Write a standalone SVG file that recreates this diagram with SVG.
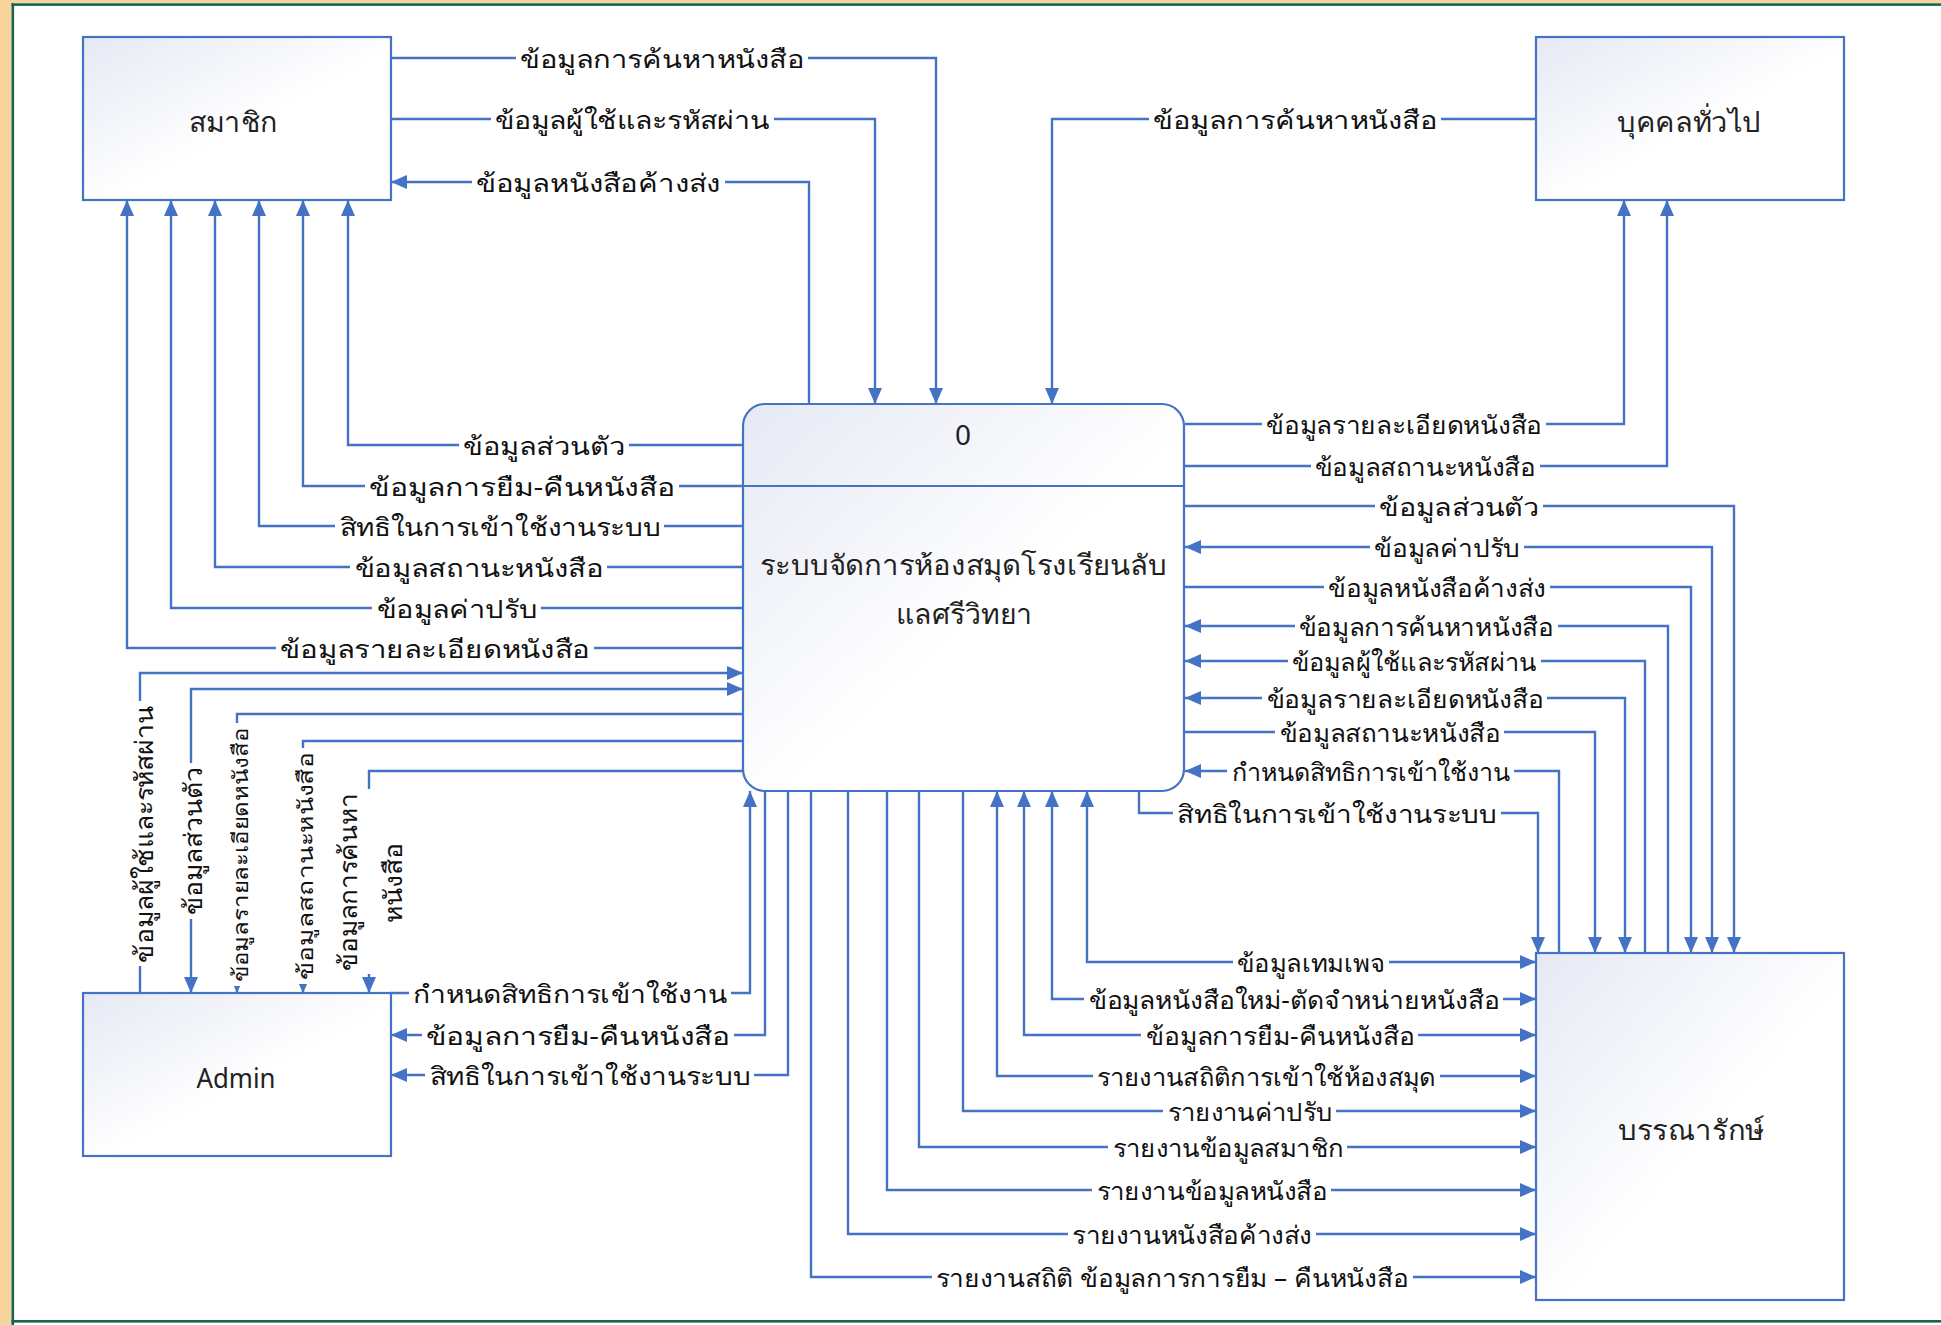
<svg xmlns="http://www.w3.org/2000/svg" width="1941" height="1325" viewBox="0 0 1941 1325">
<defs>
<linearGradient id="gb" x1="0" y1="0" x2="1" y2="1">
<stop offset="0" stop-color="#E6E9F4"/>
<stop offset="0.55" stop-color="#FFFFFF"/>
<stop offset="1" stop-color="#FFFFFF"/>
</linearGradient>
<marker id="ah" markerWidth="16" markerHeight="14" refX="16" refY="7" orient="auto-start-reverse" markerUnits="userSpaceOnUse"><path d="M0,0 L16,7 L0,14 z" fill="#4472C4"/></marker>
<marker id="as" markerWidth="11" markerHeight="10" refX="11" refY="5" orient="auto-start-reverse" markerUnits="userSpaceOnUse"><path d="M0,0 L11,5 L0,10 z" fill="#4472C4"/></marker>
<style>
.box{fill:url(#gb);stroke:#4472C4;stroke-width:2.2}
.ln{fill:none;stroke:#4472C4;stroke-width:2.4}
.e{marker-end:url(#ah)}
.s{marker-start:url(#ah)}
.es{marker-end:url(#as)}
.bg{fill:#FFFFFF}
.lb{font-family:"Noto Sans","DejaVu Sans",sans-serif;font-size:25px;fill:#111}
.sm{font-size:21px}
.nm{font-family:"Noto Sans","DejaVu Sans",sans-serif;font-size:28px;fill:#222}
</style>
</defs>
<rect x="0" y="0" width="1941" height="1325" fill="#FFFFFF"/>
<rect x="0" y="0" width="1941" height="3.5" fill="#F7D59C"/>
<rect x="0" y="0" width="11.5" height="1325" fill="#F7D59C"/>
<rect x="11.5" y="3.3" width="1929.5" height="2.6" fill="#17654A"/>
<rect x="11.5" y="3.3" width="2.6" height="1321.7" fill="#17654A"/>
<rect x="11.5" y="1320" width="1929.5" height="2.6" fill="#17654A"/>

<g id="connectors">
<path class="ln e" d="M391,58 H936 V404"/>
<path class="ln e" d="M391,119 H875 V404"/>
<path class="ln e" d="M809,404 V182 H391"/>
<path class="ln e" d="M743,445 H348 V200"/>
<path class="ln e" d="M743,486 H303 V200"/>
<path class="ln e" d="M743,526 H259 V200"/>
<path class="ln e" d="M743,567 H215 V200"/>
<path class="ln e" d="M743,608 H171 V200"/>
<path class="ln e" d="M743,648 H127 V200"/>
<path class="ln e" d="M140,993 V673 H743"/>
<path class="ln e s" d="M191,993 V689 H743"/>
<path class="ln es" d="M743,714 H237 V993"/>
<path class="ln es" d="M743,741 H303 V993"/>
<path class="ln e" d="M743,771 H369 V993"/>
<path class="ln e" d="M391,993 H750 V791"/>
<path class="ln e" d="M765,791 V1035 H391"/>
<path class="ln e" d="M788,791 V1075 H391"/>
<path class="ln e" d="M1535,119 H1052 V404"/>
<path class="ln e" d="M1185,424 H1624 V200"/>
<path class="ln e" d="M1185,466 H1667 V200"/>
<path class="ln e" d="M1185,506 H1734 V953"/>
<path class="ln e s" d="M1185,547 H1712 V953"/>
<path class="ln e" d="M1185,587 H1691 V953"/>
<path class="ln e" d="M1668,953 V626 H1185"/>
<path class="ln e" d="M1645,953 V661 H1185"/>
<path class="ln e s" d="M1185,698 H1625 V953"/>
<path class="ln e" d="M1185,732 H1595 V953"/>
<path class="ln e" d="M1559,953 V771 H1185"/>
<path class="ln e" d="M1139,791 V813 H1538 V953"/>
<path class="ln e s" d="M1087,791 V962 H1536"/>
<path class="ln e s" d="M1052,791 V999 H1536"/>
<path class="ln e s" d="M1024,791 V1035 H1536"/>
<path class="ln e s" d="M997,791 V1076 H1536"/>
<path class="ln e" d="M963,791 V1111 H1536"/>
<path class="ln e" d="M919,791 V1147 H1536"/>
<path class="ln e" d="M887,791 V1190 H1536"/>
<path class="ln e" d="M848,791 V1234 H1536"/>
<path class="ln e" d="M811,791 V1277 H1536"/>
</g>

<g id="labels">
<rect class="bg" x="516" y="53" width="292" height="10"/><text class="lb" x="662" y="68" text-anchor="middle" textLength="284" lengthAdjust="spacingAndGlyphs">ข้อมูลการค้นหาหนังสือ</text>
<rect class="bg" x="491" y="114" width="283" height="10"/><text class="lb" x="632" y="129" text-anchor="middle" textLength="275" lengthAdjust="spacingAndGlyphs">ข้อมูลผู้ใช้และรหัสผ่าน</text>
<rect class="bg" x="472" y="177" width="253" height="10"/><text class="lb" x="598" y="192" text-anchor="middle" textLength="245" lengthAdjust="spacingAndGlyphs">ข้อมูลหนังสือค้างส่ง</text>
<rect class="bg" x="1149" y="114" width="292" height="10"/><text class="lb" x="1295" y="129" text-anchor="middle" textLength="284" lengthAdjust="spacingAndGlyphs">ข้อมูลการค้นหาหนังสือ</text>

<rect class="bg" x="459" y="440" width="170" height="10"/><text class="lb" x="544" y="455" text-anchor="middle" textLength="162" lengthAdjust="spacingAndGlyphs">ข้อมูลส่วนตัว</text>
<rect class="bg" x="365" y="481" width="314" height="10"/><text class="lb" x="522" y="496" text-anchor="middle" textLength="306" lengthAdjust="spacingAndGlyphs">ข้อมูลการยืม-คืนหนังสือ</text>
<rect class="bg" x="335" y="521" width="329" height="10"/><text class="lb" x="500" y="536" text-anchor="middle" textLength="321" lengthAdjust="spacingAndGlyphs">สิทธิในการเข้าใช้งานระบบ</text>
<rect class="bg" x="350" y="562" width="257" height="10"/><text class="lb" x="479" y="577" text-anchor="middle" textLength="249" lengthAdjust="spacingAndGlyphs">ข้อมูลสถานะหนังสือ</text>
<rect class="bg" x="372" y="603" width="169" height="10"/><text class="lb" x="457" y="618" text-anchor="middle" textLength="161" lengthAdjust="spacingAndGlyphs">ข้อมูลค่าปรับ</text>
<rect class="bg" x="276" y="643" width="318" height="10"/><text class="lb" x="435" y="658" text-anchor="middle" textLength="310" lengthAdjust="spacingAndGlyphs">ข้อมูลรายละเอียดหนังสือ</text>

<rect class="bg" x="135" y="701" width="10" height="265"/><text class="lb" transform="translate(153,834) rotate(-90)" text-anchor="middle" textLength="257" lengthAdjust="spacingAndGlyphs">ข้อมูลผู้ใช้และรหัสผ่าน</text>
<rect class="bg" x="186" y="763" width="10" height="156"/><text class="lb" transform="translate(202,841) rotate(-90)" text-anchor="middle" textLength="148" lengthAdjust="spacingAndGlyphs">ข้อมูลส่วนตัว</text>
<rect class="bg" x="232" y="723" width="10" height="263"/><text class="lb sm" transform="translate(248,855) rotate(-90)" text-anchor="middle" textLength="255" lengthAdjust="spacingAndGlyphs">ข้อมูลรายละเอียดหนังสือ</text>
<rect class="bg" x="298" y="748" width="10" height="236"/><text class="lb sm" transform="translate(313,866) rotate(-90)" text-anchor="middle" textLength="228" lengthAdjust="spacingAndGlyphs">ข้อมูลสถานะหนังสือ</text>
<rect class="bg" x="364" y="789" width="10" height="185"/><text class="lb" transform="translate(357,882) rotate(-90)" text-anchor="middle" textLength="177" lengthAdjust="spacingAndGlyphs">ข้อมูลการค้นหา</text>
<text class="lb" transform="translate(402,883) rotate(-90)" text-anchor="middle" textLength="80" lengthAdjust="spacingAndGlyphs">หนังสือ</text>

<rect class="bg" x="409" y="988" width="322" height="10"/><text class="lb" x="570" y="1003" text-anchor="middle" textLength="314" lengthAdjust="spacingAndGlyphs">กำหนดสิทธิการเข้าใช้งาน</text>
<rect class="bg" x="422" y="1030" width="312" height="10"/><text class="lb" x="578" y="1045" text-anchor="middle" textLength="304" lengthAdjust="spacingAndGlyphs">ข้อมูลการยืม-คืนหนังสือ</text>
<rect class="bg" x="425" y="1070" width="329" height="10"/><text class="lb" x="590" y="1085" text-anchor="middle" textLength="321" lengthAdjust="spacingAndGlyphs">สิทธิในการเข้าใช้งานระบบ</text>

<rect class="bg" x="1262" y="419" width="284" height="10"/><text class="lb" x="1404" y="434" text-anchor="middle" textLength="276" lengthAdjust="spacingAndGlyphs">ข้อมูลรายละเอียดหนังสือ</text>
<rect class="bg" x="1311" y="461" width="229" height="10"/><text class="lb" x="1425" y="476" text-anchor="middle" textLength="221" lengthAdjust="spacingAndGlyphs">ข้อมูลสถานะหนังสือ</text>
<rect class="bg" x="1375" y="501" width="168" height="10"/><text class="lb" x="1459" y="516" text-anchor="middle" textLength="160" lengthAdjust="spacingAndGlyphs">ข้อมูลส่วนตัว</text>
<rect class="bg" x="1370" y="542" width="154" height="10"/><text class="lb" x="1447" y="557" text-anchor="middle" textLength="146" lengthAdjust="spacingAndGlyphs">ข้อมูลค่าปรับ</text>
<rect class="bg" x="1324" y="582" width="226" height="10"/><text class="lb" x="1437" y="597" text-anchor="middle" textLength="218" lengthAdjust="spacingAndGlyphs">ข้อมูลหนังสือค้างส่ง</text>
<rect class="bg" x="1295" y="621" width="263" height="10"/><text class="lb" x="1426" y="636" text-anchor="middle" textLength="255" lengthAdjust="spacingAndGlyphs">ข้อมูลการค้นหาหนังสือ</text>
<rect class="bg" x="1288" y="656" width="253" height="10"/><text class="lb" x="1414" y="671" text-anchor="middle" textLength="245" lengthAdjust="spacingAndGlyphs">ข้อมูลผู้ใช้และรหัสผ่าน</text>
<rect class="bg" x="1262" y="693" width="285" height="10"/><text class="lb" x="1405" y="708" text-anchor="middle" textLength="277" lengthAdjust="spacingAndGlyphs">ข้อมูลรายละเอียดหนังสือ</text>
<rect class="bg" x="1275" y="727" width="229" height="10"/><text class="lb" x="1390" y="742" text-anchor="middle" textLength="221" lengthAdjust="spacingAndGlyphs">ข้อมูลสถานะหนังสือ</text>
<rect class="bg" x="1227" y="766" width="287" height="10"/><text class="lb" x="1371" y="781" text-anchor="middle" textLength="279" lengthAdjust="spacingAndGlyphs">กำหนดสิทธิการเข้าใช้งาน</text>
<rect class="bg" x="1173" y="808" width="328" height="10"/><text class="lb" x="1337" y="823" text-anchor="middle" textLength="320" lengthAdjust="spacingAndGlyphs">สิทธิในการเข้าใช้งานระบบ</text>

<rect class="bg" x="1233" y="957" width="156" height="10"/><text class="lb" x="1311" y="972" text-anchor="middle" textLength="148" lengthAdjust="spacingAndGlyphs">ข้อมูลเทมเพจ</text>
<rect class="bg" x="1084" y="994" width="419" height="10"/><text class="lb" x="1294" y="1009" text-anchor="middle" textLength="411" lengthAdjust="spacingAndGlyphs">ข้อมูลหนังสือใหม่-ตัดจำหน่ายหนังสือ</text>
<rect class="bg" x="1141" y="1030" width="277" height="10"/><text class="lb" x="1280" y="1045" text-anchor="middle" textLength="269" lengthAdjust="spacingAndGlyphs">ข้อมูลการยืม-คืนหนังสือ</text>
<rect class="bg" x="1093" y="1071" width="347" height="10"/><text class="lb" x="1266" y="1086" text-anchor="middle" textLength="339" lengthAdjust="spacingAndGlyphs">รายงานสถิติการเข้าใช้ห้องสมุด</text>
<rect class="bg" x="1163" y="1106" width="173" height="10"/><text class="lb" x="1250" y="1121" text-anchor="middle" textLength="165" lengthAdjust="spacingAndGlyphs">รายงานค่าปรับ</text>
<rect class="bg" x="1108" y="1142" width="239" height="10"/><text class="lb" x="1228" y="1157" text-anchor="middle" textLength="231" lengthAdjust="spacingAndGlyphs">รายงานข้อมูลสมาชิก</text>
<rect class="bg" x="1092" y="1185" width="239" height="10"/><text class="lb" x="1212" y="1200" text-anchor="middle" textLength="231" lengthAdjust="spacingAndGlyphs">รายงานข้อมูลหนังสือ</text>
<rect class="bg" x="1068" y="1229" width="248" height="10"/><text class="lb" x="1192" y="1244" text-anchor="middle" textLength="240" lengthAdjust="spacingAndGlyphs">รายงานหนังสือค้างส่ง</text>
<rect class="bg" x="932" y="1272" width="481" height="10"/><text class="lb" x="1172" y="1287" text-anchor="middle" textLength="473" lengthAdjust="spacingAndGlyphs">รายงานสถิติ ข้อมูลการการยืม – คืนหนังสือ</text>
</g>

<g id="member"><rect class="box" x="83" y="37" width="308" height="163"/><text class="nm" x="233" y="132" text-anchor="middle" textLength="89" lengthAdjust="spacingAndGlyphs">สมาชิก</text></g>
<g id="public"><rect class="box" x="1536" y="37" width="308" height="163"/><text class="nm" x="1689" y="132" text-anchor="middle" textLength="144" lengthAdjust="spacingAndGlyphs">บุคคลทั่วไป</text></g>
<g id="admin"><rect class="box" x="83" y="993" width="308" height="163"/><text class="nm" x="236" y="1088" text-anchor="middle" textLength="79" lengthAdjust="spacingAndGlyphs">Admin</text></g>
<g id="librarian"><rect class="box" x="1536" y="953" width="308" height="347"/><text class="nm" x="1691" y="1140" text-anchor="middle" textLength="146" lengthAdjust="spacingAndGlyphs">บรรณารักษ์</text></g>
<g id="process"><rect class="box" x="743" y="404" width="441" height="387" rx="22"/><line x1="743" y1="486" x2="1184" y2="486" stroke="#4472C4" stroke-width="2.2"/><text class="nm" x="963" y="445" text-anchor="middle">0</text><text class="nm" x="963" y="575" text-anchor="middle" textLength="407" lengthAdjust="spacingAndGlyphs">ระบบจัดการห้องสมุดโรงเรียนลับ</text><text class="nm" x="964" y="624" text-anchor="middle" textLength="136" lengthAdjust="spacingAndGlyphs">แลศรีวิทยา</text></g>
</svg>
